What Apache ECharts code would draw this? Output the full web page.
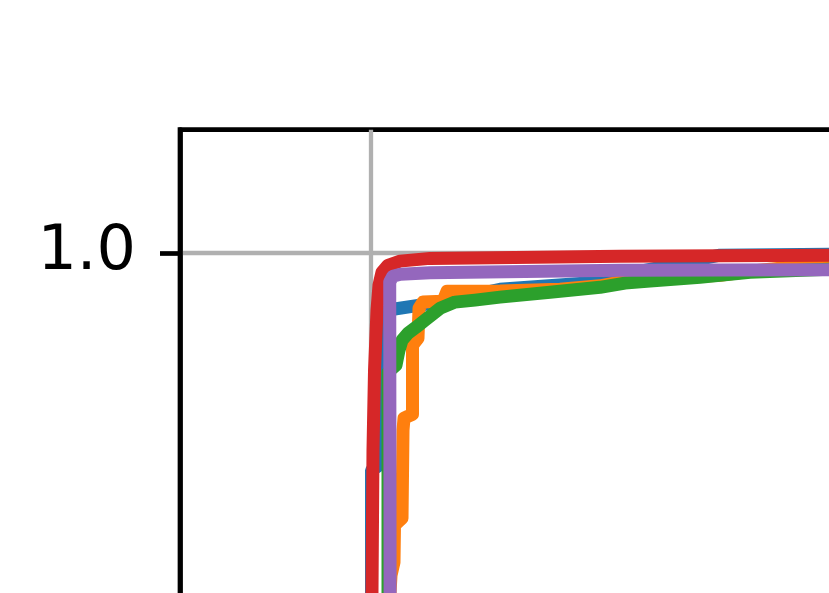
<!DOCTYPE html>
<html>
<head>
<meta charset="utf-8">
<script src="https://cdn.jsdelivr.net/npm/echarts@6/dist/echarts.min.js"></script>
<style>
html,body{margin:0;padding:0;background:#fff;}
#chart{width:829px;height:593px;}
</style>
</head>
<body>
<div id="chart"></div>
<script>
// Tick values (axes run -0.05 .. 1.05, matplotlib default margins)
var xTicks = [0.0, 0.2, 0.4, 0.6, 0.8, 1.0];
var yTicks = [0.0, 0.2, 0.4, 0.6, 0.8, 1.0];

// Curves [FPR, TPR]
var blueCurve = [
  [0, 0], [0.0002, 0.7], [0.00013, 0.8623], [0.00013, 0.9121], [0.0018, 0.9138],
  [0.0022, 0.9324], [0.0023, 0.9688], [0.0027, 0.9737], [0.0040, 0.9765],
  [0.00576, 0.9773], [0.01806, 0.9802], [0.03377, 0.9854], [0.05654, 0.9879],
  [0.0652, 0.9911], [0.07435, 0.9939], [0.08351, 0.9968], [0.09136, 0.9992],
  [0.1199, 0.9996], [1, 1]
];
var orangeCurve = [
  [0, 0], [0.0045, 0.7], [0.00497, 0.8623], [0.00524, 0.8696], [0.00602, 0.8749],
  [0.00615, 0.8899], [0.00812, 0.8927], [0.00838, 0.9283], [0.00864, 0.9332],
  [0.01086, 0.9348], [0.01086, 0.9627], [0.0123, 0.9656], [0.01257, 0.9777],
  [0.01361, 0.9802], [0.01885, 0.9806], [0.0199, 0.9846], [0.03377, 0.9847],
  [0.04948, 0.9854], [0.05995, 0.9868], [0.06518, 0.9883], [0.07042, 0.9895],
  [0.09136, 0.9911], [0.09921, 0.9927], [0.10707, 0.9939], [0.1199, 0.9947], [1, 1]
];
var greenCurve = [
  [0, 0], [0.0045, 0.7], [0.00445, 0.8623], [0.00445, 0.9518], [0.00654, 0.9547],
  [0.00733, 0.9607], [0.00812, 0.9648], [0.00969, 0.9676], [0.01178, 0.9700],
  [0.01414, 0.9729], [0.01806, 0.9777], [0.02199, 0.9802], [0.02723, 0.9810],
  [0.03377, 0.9822], [0.04686, 0.9842], [0.05995, 0.9862], [0.06649, 0.9879],
  [0.07304, 0.9887], [0.08613, 0.9903], [0.09921, 0.9923], [0.1199, 0.9935], [1, 1]
];
var redCurve = [
  [0, 0], [0.0002, 0.7], [0.00026, 0.8623], [0.00052, 0.9202], [0.00092, 0.9526],
  [0.00157, 0.9769], [0.00209, 0.9870], [0.00288, 0.9923], [0.00445, 0.9951],
  [0.00759, 0.9968], [0.01545, 0.9979], [0.0652, 0.9988], [0.1199, 0.9992], [1, 1]
];
var purpleCurve = [
  [0, 0], [0.0049, 0.6], [0.0050, 0.8623], [0.0049, 0.9883], [0.0057, 0.9907],
  [0.0077, 0.9915], [0.01545, 0.9921], [0.0652, 0.9931], [0.1199, 0.9933], [1, 1]
];

var curves = [blueCurve, orangeCurve, greenCurve, redCurve, purpleCurve];
var colors = ['#1f77b4', '#ff7f0e', '#2ca02c', '#d62728', '#9467bd'];

var chart = echarts.init(document.getElementById('chart'), null, {renderer: 'canvas'});
chart.setOption({
  animation: false,
  backgroundColor: '#ffffff',
  grid: {
    left: 180, top: 129.7, width: 4202, height: 2717,
    show: true, borderColor: '#000', borderWidth: 4.7, backgroundColor: 'transparent',
    containLabel: false, outerBoundsMode: 'none'
  },
  xAxis: {
    type: 'value', min: -0.05, max: 1.05,
    axisLine: {show: true, onZero: false, lineStyle: {color: '#000', width: 4.7}},
    axisTick: {show: true, customValues: xTicks, length: 20, lineStyle: {color: '#000', width: 4.7}},
    axisLabel: {show: true, customValues: xTicks, fontSize: 62, fontFamily: 'DejaVu Sans', color: '#000',
      formatter: function (v) { return v.toFixed(1); }},
    splitLine: {show: true, lineStyle: {color: '#b0b0b0', width: 4.3}}
  },
  yAxis: {
    type: 'value', min: -0.05, max: 1.05,
    axisLine: {show: true, onZero: false, lineStyle: {color: '#000', width: 4.7}},
    axisTick: {show: true, customValues: yTicks, length: 20, lineStyle: {color: '#000', width: 4.7}},
    axisLabel: {show: true, customValues: yTicks, fontSize: 62, fontFamily: 'DejaVu Sans', color: '#000',
      margin: 44, padding: [9, 0, 0, 0], formatter: function (v) { return v.toFixed(1); }},
    splitLine: {show: true, lineStyle: {color: '#b0b0b0', width: 4.3}}
  },
  series: curves.map(function (d, i) {
    return {
      type: 'line', data: d, showSymbol: false, symbol: 'none', clip: true,
      z: 2 + i, silent: true,
      lineStyle: {color: colors[i], width: 13, join: 'round', cap: 'square'}
    };
  })
});
</script>
</body>
</html>
